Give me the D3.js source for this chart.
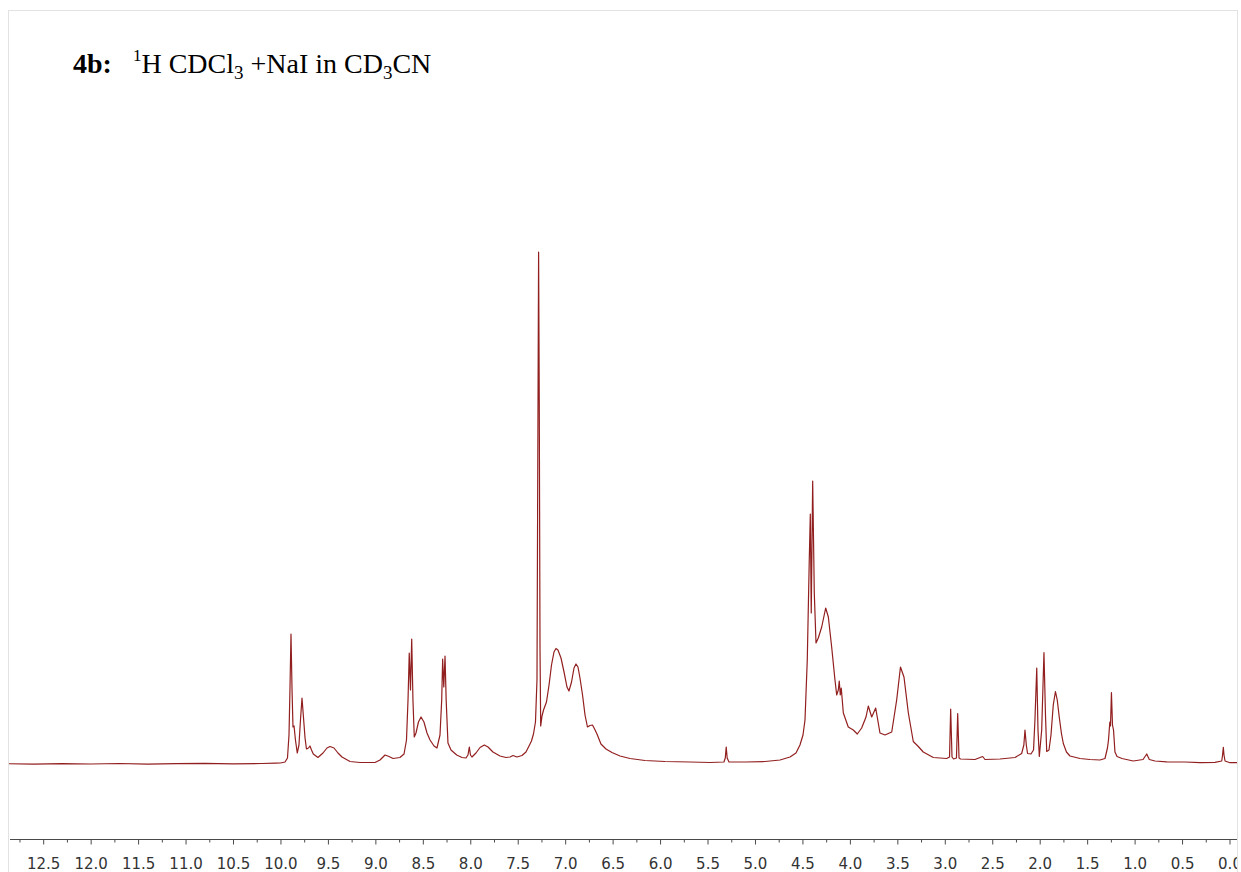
<!DOCTYPE html>
<html>
<head>
<meta charset="utf-8">
<script src="https://cdn.jsdelivr.net/npm/d3@7/dist/d3.min.js"></script>
<style>
  html, body { margin: 0; padding: 0; background: #fff; }
  svg { display: block; }
</style>
</head>
<body>
<svg id="chart" width="1241" height="872"></svg>
<script>
// Chemical-shift ticks (ppm), plotted right to left
const majorTicks = [12.5, 12.0, 11.5, 11.0, 10.5, 10.0, 9.5, 9.0, 8.5, 8.0, 7.5, 7.0,
                    6.5, 6.0, 5.5, 5.0, 4.5, 4.0, 3.5, 3.0, 2.5, 2.0, 1.5, 1.0, 0.5, 0.0];
const minorTicks = [12.75, 12.25, 11.75, 11.25, 10.75, 10.25, 9.75, 9.25, 8.75, 8.25,
                    7.75, 7.25, 6.75, 6.25, 5.75, 5.25, 4.75, 4.25, 3.75, 3.25, 2.75,
                    2.25, 1.75, 1.25, 0.75, 0.25];
const tickLabels = majorTicks.map(v => v.toFixed(1));

// 1H spectrum trace: [shift (ppm), intensity (a.u.)]
const spectrum = [
  [12.88, 0.3], [12.6, -0.2], [12.3, 0.4], [12.0, 0], [11.7, 0.5], [11.4, -0.2],
  [11.1, 0.3], [10.8, 0.6], [10.5, 0.1], [10.2, 0.5], [10.05, 0.8], [10.0, 1],
  [9.952, 2], [9.926, 6], [9.910, 29], [9.900, 74], [9.889, 130], [9.878, 74],
  [9.868, 37], [9.857, 38], [9.842, 24], [9.823, 11], [9.805, 19], [9.789, 44],
  [9.773, 66], [9.757, 46], [9.741, 26], [9.726, 15], [9.705, 16], [9.689, 18],
  [9.673, 14], [9.654, 10], [9.605, 6.5], [9.552, 11], [9.510, 16], [9.478, 17.5],
  [9.436, 16], [9.394, 11], [9.352, 7], [9.267, 2.5], [9.162, 1.5], [9.004, 1.5],
  [8.951, 4], [8.898, 9], [8.856, 7.5], [8.814, 5.5], [8.741, 6.5], [8.698, 10],
  [8.672, 24], [8.656, 64], [8.643, 111], [8.630, 74], [8.617, 125], [8.604, 64],
  [8.590, 27], [8.572, 31], [8.546, 42], [8.519, 47], [8.488, 42], [8.456, 31],
  [8.424, 24], [8.382, 18], [8.351, 16], [8.319, 29], [8.301, 64], [8.291, 105],
  [8.279, 77], [8.266, 108], [8.254, 64], [8.235, 21], [8.203, 14], [8.143, 9],
  [8.087, 6.5], [8.045, 6], [8.024, 9], [8.010, 17], [7.998, 9], [7.982, 7],
  [7.940, 11], [7.897, 16.5], [7.852, 19], [7.813, 17], [7.761, 12], [7.687, 8],
  [7.624, 6.5], [7.581, 7], [7.550, 8.5], [7.508, 7], [7.455, 8.5], [7.413, 12],
  [7.381, 18], [7.355, 23], [7.334, 30], [7.313, 42], [7.297, 84], [7.286, 364],
  [7.280, 512], [7.273, 364], [7.265, 114], [7.258, 38], [7.244, 48], [7.228, 54],
  [7.197, 62], [7.170, 79], [7.144, 99], [7.118, 112], [7.097, 115.5], [7.076, 114],
  [7.044, 106], [7.012, 92], [6.981, 77], [6.960, 73], [6.933, 82], [6.907, 96],
  [6.886, 100], [6.865, 97], [6.844, 86], [6.817, 69], [6.791, 49], [6.765, 37],
  [6.738, 38.5], [6.712, 39], [6.690, 35], [6.665, 30], [6.623, 20], [6.570, 15],
  [6.507, 11.5], [6.422, 8], [6.317, 5.5], [6.159, 3.5], [5.948, 2.5], [5.685, 2],
  [5.474, 1.5], [5.327, 2], [5.313, 6], [5.303, 17], [5.293, 6], [5.274, 2],
  [5.105, 2], [4.894, 2.5], [4.736, 4], [4.631, 7], [4.568, 11], [4.526, 19],
  [4.494, 29], [4.473, 44], [4.449, 104], [4.428, 204], [4.417, 250], [4.407, 151],
  [4.392, 283], [4.375, 171], [4.357, 121], [4.333, 126], [4.297, 137], [4.255, 156],
  [4.227, 147], [4.192, 117], [4.157, 84], [4.139, 69], [4.122, 74], [4.112, 83],
  [4.101, 69], [4.091, 76], [4.069, 51], [4.017, 37], [3.964, 34], [3.922, 30],
  [3.876, 36], [3.830, 47], [3.806, 58], [3.770, 47], [3.728, 56], [3.683, 31],
  [3.630, 29], [3.559, 32], [3.507, 64], [3.467, 97], [3.430, 87], [3.384, 51],
  [3.332, 22.5], [3.279, 17.5], [3.227, 12], [3.121, 6.5], [2.980, 5.5], [2.950, 7],
  [2.938, 55], [2.924, 7], [2.908, 5], [2.877, 6], [2.864, 50.5], [2.850, 6],
  [2.834, 5], [2.682, 4.5], [2.601, 7.5], [2.576, 4.5], [2.418, 5], [2.260, 6.5],
  [2.190, 10.5], [2.167, 19], [2.155, 34], [2.141, 19], [2.128, 10.5], [2.092, 10],
  [2.065, 14], [2.050, 44], [2.031, 96], [2.018, 34], [2.004, 7.5], [1.979, 34],
  [1.955, 111.5], [1.939, 49], [1.926, 12.5], [1.902, 14], [1.881, 29], [1.857, 59],
  [1.834, 72.5], [1.815, 64], [1.794, 47], [1.770, 30], [1.751, 20.5], [1.718, 12],
  [1.681, 8], [1.575, 5.5], [1.470, 4.5], [1.365, 4], [1.312, 5.5], [1.286, 16],
  [1.275, 24], [1.261, 42], [1.254, 38], [1.244, 71.5], [1.233, 39], [1.222, 34],
  [1.207, 12], [1.185, 7.5], [1.133, 5.5], [1.014, 3], [0.911, 4.5], [0.872, 10],
  [0.845, 4.5], [0.785, 3], [0.662, 2.2], [0.469, 2], [0.311, 1.3], [0.153, 1.7],
  [0.082, 3], [0.073, 9], [0.065, 16.7], [0.058, 9], [0.047, 3], [-0.005, 1.3],
  [-0.111, 1.3]
];

const svg = d3.select("#chart");
const W = 1241, H = 872;

// Frame of the figure
svg.append("rect")
  .attr("x", 8.5).attr("y", 10.5)
  .attr("width", 1229).attr("height", H)
  .attr("fill", "none").attr("stroke", "#e2e2e2").attr("stroke-width", 1);

svg.append("defs").append("clipPath").attr("id", "plotClip")
  .append("rect").attr("x", 9).attr("y", 11).attr("width", 1228).attr("height", H);

const x = d3.scaleLinear().domain([12.5, 0]).range([43.2, 1229.5]);
const y = d3.scaleLinear().domain([0, 512]).range([764, 252]);

const plot = svg.append("g").attr("clip-path", "url(#plotClip)");

// Spectrum trace
const line = d3.line().x(d => x(d[0])).y(d => y(d[1]));
plot.append("path")
  .datum(spectrum)
  .attr("d", line)
  .attr("fill", "none")
  .attr("stroke", "#921f1f")
  .attr("stroke-width", 1.2)
  .attr("stroke-linejoin", "round");

// ppm axis
const axisY = 839.5;
const xAxis = d3.axisBottom(x)
  .tickValues(majorTicks)
  .tickFormat((d, i) => tickLabels[i])
  .tickSize(5)
  .tickSizeOuter(0)
  .tickPadding(14);
const minorAxis = d3.axisBottom(x)
  .tickValues(minorTicks)
  .tickFormat("")
  .tickSize(3)
  .tickSizeOuter(0);

const axisG = plot.append("g").attr("transform", `translate(0,${axisY})`);
axisG.call(xAxis);
axisG.select(".domain").remove();
axisG.selectAll(".tick line").attr("stroke", "#4a4a4a");
axisG.selectAll(".tick text")
  .attr("fill", "#333")
  .style("font-family", "'DejaVu Sans', Verdana, sans-serif")
  .style("font-size", "15px");

const minorG = plot.append("g").attr("transform", `translate(0,${axisY})`);
minorG.call(minorAxis);
minorG.select(".domain").remove();
minorG.selectAll(".tick line").attr("stroke", "#4a4a4a");

plot.append("line")
  .attr("x1", 10).attr("x2", 1237)
  .attr("y1", axisY).attr("y2", axisY)
  .attr("stroke", "#4a4a4a").attr("stroke-width", 1);

// Title
const fs = 28;
const title = svg.append("text")
  .attr("x", 73).attr("y", 73)
  .attr("fill", "#000")
  .style("font-family", "'Liberation Serif', 'Times New Roman', serif")
  .style("font-size", fs + "px");
title.append("tspan").attr("font-weight", "bold").text("4b:");
title.append("tspan").attr("dx", 21).attr("dy", -12).style("font-size", "17px").text("1");
title.append("tspan").attr("dy", 12).text("H CDCl");
title.append("tspan").attr("dy", 6).style("font-size", "19px").text("3");
title.append("tspan").attr("dy", -6).text(" +NaI in CD");
title.append("tspan").attr("dy", 6).style("font-size", "19px").text("3");
title.append("tspan").attr("dy", -6).text("CN");
</script>
</body>
</html>
